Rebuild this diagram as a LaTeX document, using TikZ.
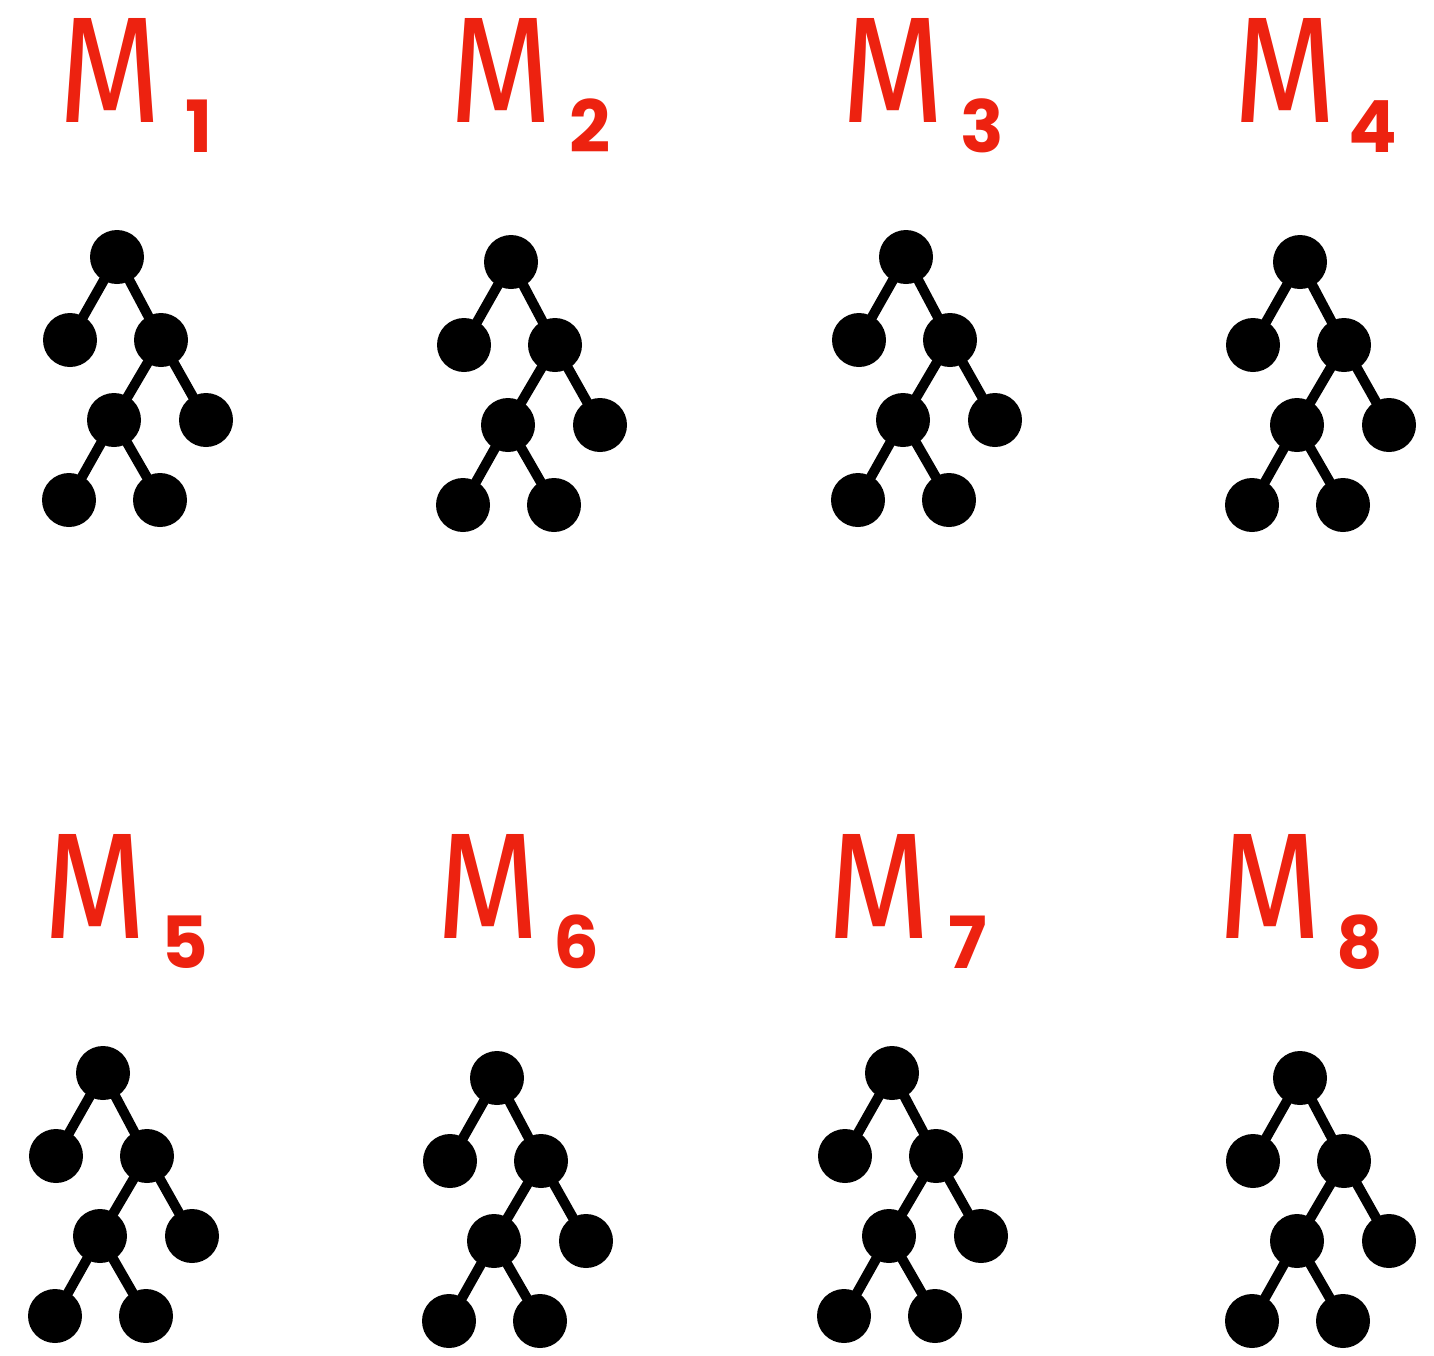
\documentclass[tikz,border=0pt]{standalone}
\usepackage{fontspec}
\setmainfont{Poppins}
\newfontfamily\mfont{Fira Sans}
\definecolor{lblred}{RGB}{237,34,16}
\tikzset{
  dot/.style={circle,fill=black,inner sep=0pt,minimum size=54pt},
  edge/.style={line width=10pt,black},
  bigm/.style={text=lblred,inner sep=0pt,anchor=base,font=\mfont\fontsize{151}{155}\selectfont},
  subd/.style={text=lblred,inner sep=0pt,anchor=base,font=\fontsize{72}{76}\selectfont\bfseries},
}
\newcommand\narrowm{\scalebox{0.88}[1]{M}}
\newcommand\mytree[3]{%
  \begin{scope}[shift={(#2,#3)}]
    \node[dot] (#1r) at (0,0) {};
    \node[dot] (#1a) at (-47,83) {};
    \node[dot] (#1b) at (44,83) {};
    \node[dot] (#1c) at (-3,163) {};
    \node[dot] (#1d) at (89,163) {};
    \node[dot] (#1e) at (-48,243) {};
    \node[dot] (#1f) at (43,243) {};
    \draw[edge] (#1r.center) -- (#1a.center);
    \draw[edge] (#1r.center) -- (#1b.center);
    \draw[edge] (#1b.center) -- (#1c.center);
    \draw[edge] (#1b.center) -- (#1d.center);
    \draw[edge] (#1c.center) -- (#1e.center);
    \draw[edge] (#1c.center) -- (#1f.center);
  \end{scope}}
\begin{document}
\begin{tikzpicture}[x=1pt,y=-1pt]
\useasboundingbox (0,0) rectangle (1434,1355);
\mytree{p}{117}{257}
\mytree{q}{511}{262}
\mytree{s}{906}{257}
\mytree{u}{1300}{262}
\mytree{v}{103}{1073}
\mytree{w}{497}{1078}
\mytree{y}{892}{1073}
\mytree{z}{1300}{1078}
\node[bigm] (m1) at (110,122) {\narrowm};
\node[subd] (d1) at (199,152) {1};
\node[bigm] (m2) at (501,122) {\narrowm};
\node[subd] (d2) at (590,152) {2};
\node[bigm] (m3) at (893,122) {\narrowm};
\node[subd] (d3) at (982,152) {3};
\node[bigm] (m4) at (1285,122) {\narrowm};
\node[subd] (d4) at (1373,152) {4};
\node[bigm] (m5) at (95,938) {\narrowm};
\node[subd] (d5) at (185,968) {5};
\node[bigm] (m6) at (488,938) {\narrowm};
\node[subd] (d6) at (576,968) {6};
\node[bigm] (m7) at (879,938) {\narrowm};
\node[subd] (d7) at (968,968) {7};
\node[bigm] (m8) at (1270,938) {\narrowm};
\node[subd] (d8) at (1360,968) {8};
\end{tikzpicture}
\end{document}
